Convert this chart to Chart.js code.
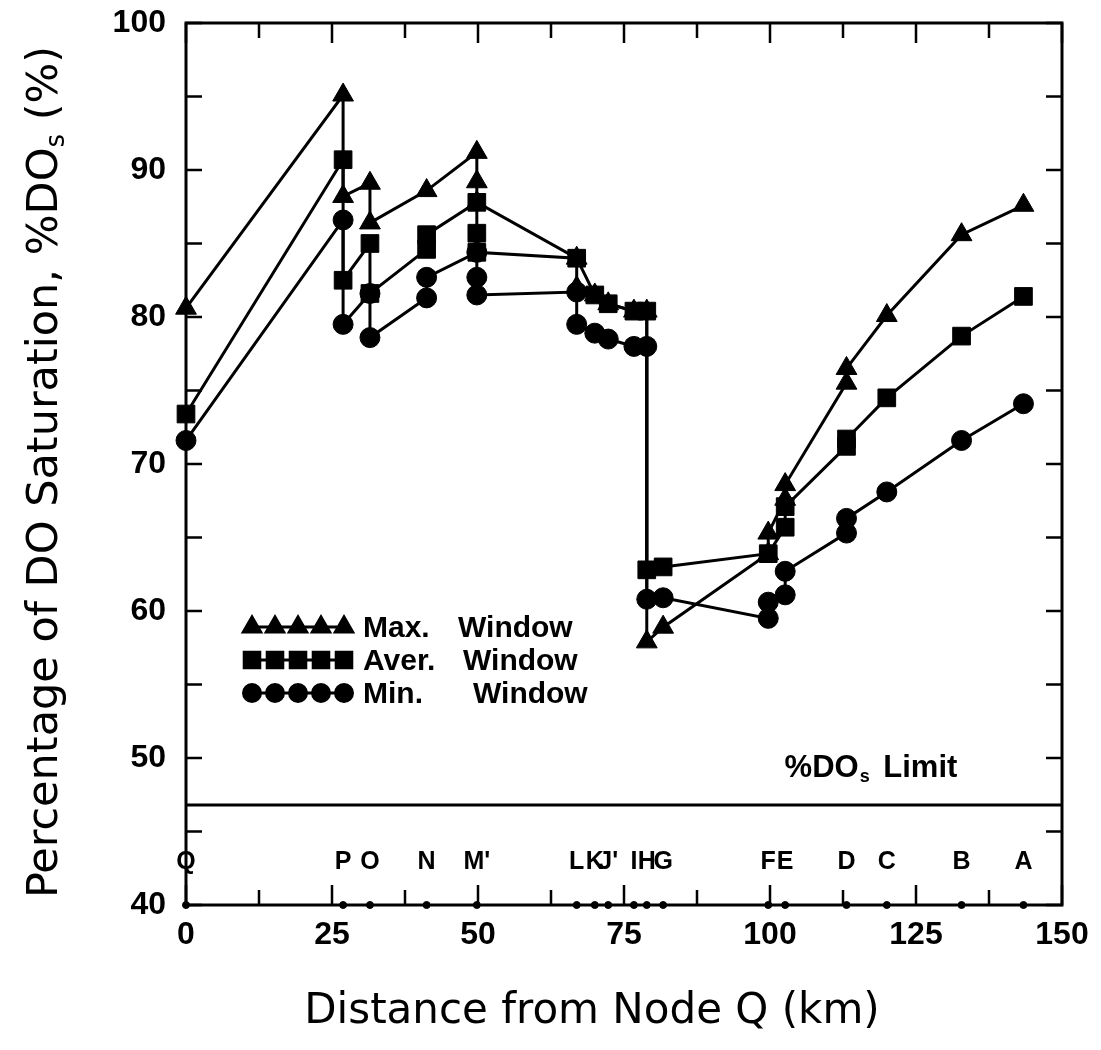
<!DOCTYPE html>
<html>
<head>
<meta charset="utf-8">
<script src="https://cdn.jsdelivr.net/npm/chart.js@4.4.1/dist/chart.umd.min.js"></script>
<style>
  html, body { margin: 0; padding: 0; background: #fff; }
</style>
</head>
<body>
<canvas id="myChart" width="1101" height="1050"></canvas>
<script>
// node names along the river and their distance from Q (km)
const nodeNames = ['Q', 'P', 'O', 'N', "M'", 'L', 'K', "J'", 'I', 'H', 'G', 'F', 'E', 'D', 'C', 'B', 'A'];
const nodeKm = [0, 26.9, 31.5, 41.2, 49.8, 66.9, 70.0, 72.3, 76.7, 78.9, 81.7, 99.7, 102.6, 113.1, 120.0, 132.8, 143.4];

// max window (triangles)
const maxKm = [0, 26.9, 26.9, 31.5, 31.5, 41.2, 49.8, 49.8, 49.8, 66.9, 66.9, 70.0, 72.3, 76.7, 78.9, 78.9, 81.7, 99.7, 99.7, 102.6, 102.6, 113.1, 113.1, 120.0, 132.8, 143.4];
const maxPct = [80.6, 95.1, 88.2, 89.1, 86.4, 88.6, 91.2, 89.2, 87.8, 84.0, 82.0, 81.5, 80.9, 80.4, 80.4, 57.9, 58.9, 63.9, 65.3, 67.6, 68.6, 75.5, 76.5, 80.1, 85.6, 87.6];

// average window (squares)
const avgKm = [0, 26.9, 26.9, 31.5, 31.5, 41.2, 41.2, 49.8, 49.8, 49.8, 66.9, 70.0, 72.3, 76.7, 78.9, 78.9, 81.7, 99.7, 102.6, 102.6, 113.1, 113.1, 120.0, 132.8, 143.4];
const avgPct = [73.4, 90.7, 82.5, 85.0, 81.6, 84.6, 85.6, 87.8, 85.7, 84.4, 84.0, 81.5, 80.9, 80.4, 80.4, 62.8, 63.0, 63.9, 65.7, 67.1, 71.2, 71.7, 74.5, 78.7, 81.4];

// min window (circles)
const minKm = [0, 26.9, 26.9, 31.5, 31.5, 41.2, 41.2, 49.8, 49.8, 49.8, 66.9, 66.9, 70.0, 72.3, 76.7, 78.9, 78.9, 81.7, 99.7, 99.7, 102.6, 102.6, 113.1, 113.1, 120.0, 132.8, 143.4];
const minPct = [71.6, 86.6, 79.5, 81.6, 78.6, 81.3, 82.7, 84.4, 82.7, 81.5, 81.7, 79.5, 78.9, 78.5, 78.0, 78.0, 60.8, 60.9, 59.5, 60.6, 61.1, 62.7, 65.3, 66.3, 68.1, 71.6, 74.1];

// %DOs limit line
const limitKm = [0, 150];
const limitPct = [46.8, 46.8];

const seriesNames = ['Max.', 'Aver.', 'Min.'];
const xTitle = 'Distance from Node Q (km)';

const toPts = (xs, ys) => xs.map((x, i) => ({ x: x, y: ys[i] }));

function seriesSet(label, xs, ys, style, r) {
    return {
        label: label,
        data: toPts(xs, ys),
        showLine: true,
        borderColor: '#000',
        backgroundColor: '#000',
        borderWidth: 3,
        pointStyle: style,
        pointRadius: r,
        pointBorderWidth: 1,
        tension: 0,
        clip: false
    };
}

const tickFont = { family: 'Liberation Sans', weight: 'bold', size: 32 };

const decorations = {
    id: 'decorations',
    afterDraw(chart) {
        const ctx = chart.ctx;
        const a = chart.chartArea;
        const xs = chart.scales.x;
        const ys = chart.scales.y;
        ctx.save();
        ctx.strokeStyle = '#000';
        ctx.fillStyle = '#000';

        // frame
        ctx.lineWidth = 3;
        ctx.strokeRect(a.left, a.top, a.right - a.left, a.bottom - a.top);

        // inward ticks
        ctx.lineWidth = 2.5;
        ctx.beginPath();
        for (let v = 40; v <= 100; v += 5) {
            const py = ys.getPixelForValue(v);
            ctx.moveTo(a.left, py); ctx.lineTo(a.left + 16, py);
            ctx.moveTo(a.right, py); ctx.lineTo(a.right - 16, py);
        }
        for (let k = 0; k <= 150; k += 12.5) {
            const px = xs.getPixelForValue(k);
            const len = k % 25 === 0 ? 20 : 15;
            ctx.moveTo(px, a.bottom); ctx.lineTo(px, a.bottom - len);
            ctx.moveTo(px, a.top); ctx.lineTo(px, a.top + len);
        }
        ctx.stroke();

        // node labels
        ctx.font = 'bold 25px "Liberation Sans"';
        ctx.textAlign = 'center';
        ctx.textBaseline = 'middle';
        const labelY = ys.getPixelForValue(42.9);
        nodeNames.forEach((n, i) => {
            ctx.fillText(n, xs.getPixelForValue(nodeKm[i]), labelY);
        });

        // legend
        const styles = ['triangle', 'rect', 'circle'];
        const radii = [10, 11, 8.5];
        const winX = [272, 277, 287];
        ctx.font = 'bold 30px "Liberation Sans"';
        ctx.textAlign = 'left';
        for (let r = 0; r < 3; r++) {
            const py = a.top + 604 + r * 33;
            const x0 = a.left + 66;
            ctx.lineWidth = 3;
            ctx.beginPath();
            ctx.moveTo(x0, py); ctx.lineTo(x0 + 92, py);
            ctx.stroke();
            for (let m = 0; m < 5; m++) {
                Chart.helpers.drawPoint(ctx, { pointStyle: styles[r], radius: radii[r], rotation: 0, borderWidth: 1 }, x0 + m * 23, py);
            }
            ctx.fillText(seriesNames[r], a.left + 177, py + 2);
            ctx.fillText('Window', a.left + winX[r], py + 2);
        }

        // limit label
        const lx = xs.getPixelForValue(102.5);
        const ly = ys.getPixelForValue(49.3);
        ctx.font = 'bold 31px "Liberation Sans"';
        ctx.fillText('%DO', lx, ly);
        let w = ctx.measureText('%DO').width;
        ctx.font = 'bold 18px "Liberation Sans"';
        ctx.fillText('s', lx + w + 1, ly + 9);
        w += ctx.measureText('s').width;
        ctx.font = 'bold 31px "Liberation Sans"';
        ctx.fillText(' Limit', lx + w + 6, ly);

        // x title
        ctx.font = '42px "DejaVu Sans"';
        ctx.textAlign = 'center';
        ctx.fillText(xTitle, 592, 1012);

        // y title with subscript
        ctx.translate(46, 472);
        ctx.rotate(-Math.PI / 2);
        const p1 = 'Percentage of DO Saturation, %DO';
        const p2 = 's';
        const p3 = ' (%)';
        ctx.font = '43px "DejaVu Sans"';
        const w1 = ctx.measureText(p1).width;
        const w3 = ctx.measureText(p3).width;
        ctx.font = '26px "DejaVu Sans"';
        const w2 = ctx.measureText(p2).width;
        const start = -(w1 + w2 + w3) / 2;
        ctx.textAlign = 'left';
        ctx.font = '43px "DejaVu Sans"';
        ctx.fillText(p1, start, 0);
        ctx.font = '26px "DejaVu Sans"';
        ctx.fillText(p2, start + w1, 11);
        ctx.font = '43px "DejaVu Sans"';
        ctx.fillText(p3, start + w1 + w2, 0);

        ctx.restore();
    }
};

new Chart(document.getElementById('myChart'), {
    type: 'scatter',
    data: {
        datasets: [
            seriesSet('Max. Window', maxKm, maxPct, 'triangle', 12),
            seriesSet('Aver. Window', avgKm, avgPct, 'rect', 12.5),
            seriesSet('Min. Window', minKm, minPct, 'circle', 10),
            {
                label: 'Limit',
                data: toPts(limitKm, limitPct),
                showLine: true,
                borderColor: '#000',
                borderWidth: 3,
                pointRadius: 0
            },
            {
                label: 'Nodes',
                data: nodeKm.map(k => ({ x: k, y: 40 })),
                showLine: false,
                backgroundColor: '#000',
                borderColor: '#000',
                pointRadius: 3.5,
                clip: false
            }
        ]
    },
    options: {
        responsive: false,
        animation: false,
        layout: { padding: { left: 0, right: 39, top: 23, bottom: 0 } },
        plugins: {
            legend: { display: false },
            tooltip: { enabled: false }
        },
        scales: {
            x: {
                type: 'linear',
                min: 0,
                max: 150,
                grid: { display: false, drawTicks: false },
                border: { display: false },
                ticks: { stepSize: 25, padding: 11, color: '#000', font: tickFont, maxRotation: 0 },
                afterFit(s) { s.height = 145; s.paddingLeft = 0; s.paddingRight = 0; }
            },
            y: {
                min: 40,
                max: 100,
                grid: { display: false, drawTicks: false },
                border: { display: false },
                ticks: { stepSize: 10, padding: 20, color: '#000', font: tickFont },
                afterFit(s) { s.width = 186; s.paddingTop = 0; s.paddingBottom = 0; }
            }
        }
    },
    plugins: [decorations]
});
</script>
</body>
</html>
